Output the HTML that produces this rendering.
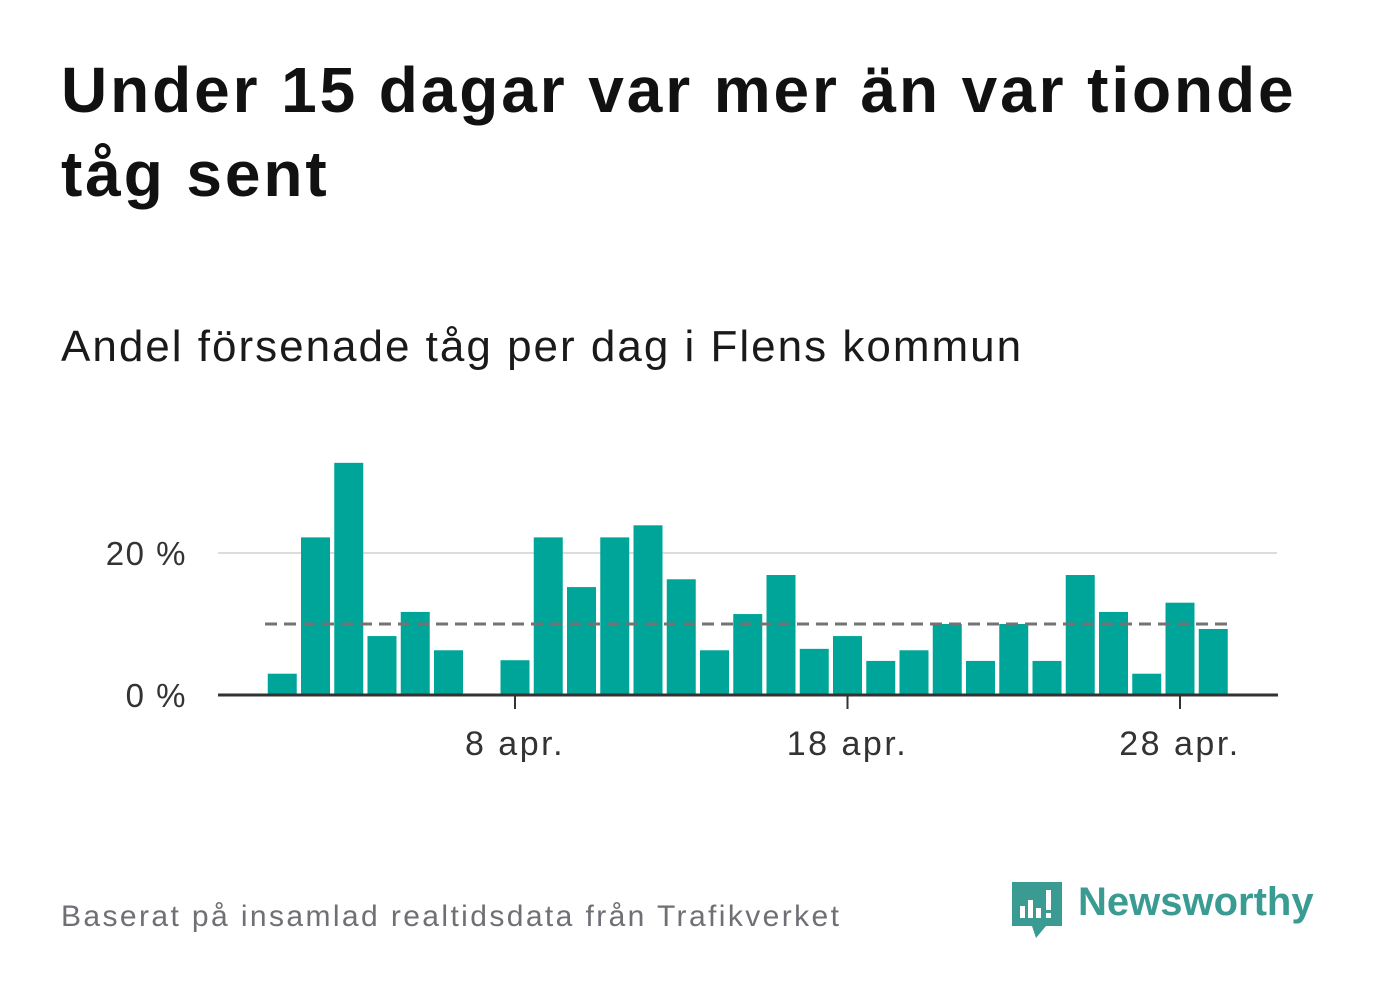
<!DOCTYPE html>
<html><head><meta charset="utf-8">
<style>
html,body{margin:0;padding:0;background:#fff;width:1382px;height:999px;overflow:hidden;font-family:"Liberation Sans","DejaVu Sans",sans-serif;}
#title{position:absolute;left:61px;top:48px;width:1275px;font-size:64px;font-weight:bold;line-height:84px;color:#111;letter-spacing:2.9px}
#sub{position:absolute;left:61px;top:322px;font-size:44px;color:#1a1a1a;letter-spacing:2px}
#foot{position:absolute;left:61px;top:900px;font-size:30px;color:#6f6f75;letter-spacing:2.4px}
#logotext{position:absolute;left:1078px;top:880px;font-size:40px;font-weight:bold;color:#3a9b92}
svg{position:absolute;left:0;top:0}
</style></head><body>
<div id="title">Under 15 dagar var mer än var tionde tåg sent</div>
<div id="sub">Andel försenade tåg per dag i Flens kommun</div>
<svg id="chart" width="1382" height="999"></svg>
<div id="foot">Baserat på insamlad realtidsdata från Trafikverket</div>
<svg id="logo" width="56" height="62" viewBox="0 0 56 62" style="left:1010px;top:880px">
<path d="M2 2 H52 V46 H36 L26 58 L22 46 H2 Z" fill="#3a9b92"/>
<rect x="10" y="26" width="5" height="12" fill="#fff"/><rect x="18" y="20" width="5" height="18" fill="#fff"/><rect x="26" y="28" width="5" height="10" fill="#fff"/><rect x="36" y="10" width="5" height="20" fill="#fff"/><rect x="36" y="33" width="5" height="5" fill="#fff"/>
</svg>
<div id="logotext">Newsworthy</div>
<script>
const days = [1,2,3,4,5,6,7,8,9,10,11,12,13,14,15,16,17,18,19,20,21,22,23,24,25,26,27,28,29];
const values = [3.0,22.2,32.7,8.3,11.7,6.3,0,4.9,22.2,15.2,22.2,23.9,16.3,6.3,11.4,16.9,6.5,8.3,4.8,6.3,10,4.8,10,4.8,16.9,11.7,3.0,13,9.3];
const yTicks = [0,20];
const yTickLabels = ["0 %","20 %"];
const xTicks = [8,18,28];
const xTickLabels = ["8 apr.","18 apr.","28 apr."];
const refValue = 10;

const NS="http://www.w3.org/2000/svg";
const svg=document.getElementById('chart');
const x=d=>515+(d-8)*33.25;
const y=v=>695-v*7.1;
function mk(tag,attrs){const e=document.createElementNS(NS,tag);for(const k in attrs)e.setAttribute(k,attrs[k]);svg.appendChild(e);return e;}
yTicks.forEach((t,i)=>{
  if(t!==0){const g=mk('line',{x1:218,x2:1277,y1:y(t),y2:y(t),stroke:'#dcdcdc','stroke-width':2});
  
  }
  const l=mk('text',{x:187,y:y(t)+12,'text-anchor':'end','font-size':33,'letter-spacing':1.5,fill:'#333','font-family':'Liberation Sans, sans-serif'});
  l.textContent=yTickLabels[i];
  
  
});
days.forEach((d,i)=>{
  if(values[i]<=0)return;
  const r=mk('rect',{x:x(d)-14.5,y:y(values[i]),width:29,height:y(0)-y(values[i]),fill:'#00a59a'});
  
  
});
const ref=mk('line',{x1:265,x2:1230,y1:y(refValue),y2:y(refValue),stroke:'#737373','stroke-width':3,'stroke-dasharray':'12 7'});


const ax=mk('line',{x1:218,x2:1278,y1:y(0),y2:y(0),stroke:'#333','stroke-width':3});


xTicks.forEach((t,i)=>{
  const tk=mk('line',{x1:x(t),x2:x(t),y1:y(0),y2:y(0)+14,stroke:'#333','stroke-width':2});
  
  
  const l=mk('text',{x:x(t),y:755,'text-anchor':'middle','font-size':34,'letter-spacing':2.5,fill:'#333','font-family':'Liberation Sans, sans-serif'});
  l.textContent=xTickLabels[i];
  
  
});
</script>
</body></html>
